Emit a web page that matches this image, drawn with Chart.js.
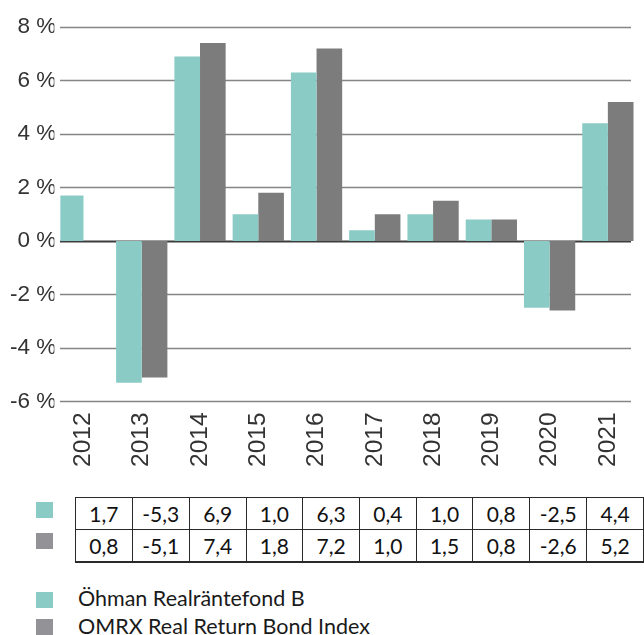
<!DOCTYPE html>
<html>
<head>
<meta charset="utf-8">
<script src="https://cdn.jsdelivr.net/npm/chart.js@4/dist/chart.umd.min.js"></script>
<style>
  html, body { margin: 0; padding: 0; background: #fff; width: 644px; height: 635px; overflow: hidden; position: relative; }
  #wrap { position: absolute; left: 0; top: 0; width: 644px; height: 482px; }
  table.vals { position: absolute; left: 75px; top: 497px; border-collapse: collapse; table-layout: fixed;
    font-family: Lato, "Noto Sans", sans-serif; font-size: 21px; color: #111; }
  table.vals tr { height: 31px; }
  table.vals td { width: 57.3px; height: 31px; padding: 0; text-align: center; border: 1.5px solid #2a2a2a; line-height: 28px; }
  table.vals tr:last-child td { border-bottom: 2px solid #2a2a2a; }
  .sw { position: absolute; width: 17px; height: 16px; }
  .lg { position: absolute; left: 78px; font-family: Lato, "Noto Sans", sans-serif; font-size: 21.5px; color: #1a1a1a; line-height: 24px; white-space: nowrap; }
</style>
</head>
<body>
<div id="wrap"><canvas id="c" width="644" height="482"></canvas></div>
<div id="tbl"></div>
<div id="legend"></div>
<script>
const categories = ['2012','2013','2014','2015','2016','2017','2018','2019','2020','2021'];
const seriesNames = ['Öhman Realräntefond B', 'OMRX Real Return Bond Index'];
// bar heights as drawn in the chart (2012 index bar is not drawn)
const fundBars  = [1.7, -5.3, 6.9, 1.0, 6.3, 0.4, 1.0, 0.8, -2.5, 4.4];
const indexBars = [null, -5.1, 7.4, 1.8, 7.2, 1.0, 1.5, 0.8, -2.6, 5.2];
// values printed in the table
const fundTable  = ['1,7','-5,3','6,9','1,0','6,3','0,4','1,0','0,8','-2,5','4,4'];
const indexTable = ['0,8','-5,1','7,4','1,8','7,2','1,0','1,5','0,8','-2,6','5,2'];
const yTicks = { min: -6, max: 8, step: 2 };
const colors = ['#8acbc6', '#7c7c7c'];
const swatchColors = ['#8acbc6', '#939397'];

const gridPlugin = {
  id: 'grid',
  beforeDatasetsDraw(chart) {
    const ctx = chart.ctx, y = chart.scales.y, a = chart.chartArea;
    const x0 = a.left + 5.7, x1 = a.right - 6;
    ctx.save();
    y.ticks.forEach(t => {
      const py = Math.round(y.getPixelForValue(t.value)) + 0.5;
      ctx.beginPath();
      ctx.strokeStyle = t.value === 0 ? '#3c3c3c' : '#858585';
      ctx.lineWidth = t.value === 0 ? 2 : 1.6;
      ctx.moveTo(x0, py); ctx.lineTo(x1, py); ctx.stroke();
    });
    ctx.restore();
  }
};

new Chart(document.getElementById('c'), {
  type: 'bar',
  data: {
    labels: categories,
    datasets: [
      { label: seriesNames[0], data: fundBars, backgroundColor: colors[0], borderWidth: 0,
        categoryPercentage: 0.88, barPercentage: 1.0, clip: { left: -6, right: 4, top: 4, bottom: 4 } },
      { label: seriesNames[1], data: indexBars, backgroundColor: colors[1], borderWidth: 0,
        categoryPercentage: 0.88, barPercentage: 1.0, clip: { left: -6, right: 4, top: 4, bottom: 4 } }
    ]
  },
  options: {
    responsive: false,
    animation: false,
    layout: { padding: { top: 27, right: 7, bottom: 12, left: 0 } },
    plugins: { legend: { display: false }, tooltip: { enabled: false } },
    scales: {
      x: {
        offset: true,
        grid: { display: false },
        border: { display: false },
        ticks: { minRotation: 90, maxRotation: 90, padding: 3, color: '#333',
          font: { family: 'Liberation Sans, Arial, sans-serif', size: 24.5 } }
      },
      y: {
        min: yTicks.min, max: yTicks.max,
        grid: { display: false },
        border: { display: false },
        afterFit: s => { s.width = 54.35; },
        ticks: { stepSize: yTicks.step, padding: -10, color: '#333',
          font: { family: 'Liberation Sans, Arial, sans-serif', size: 22.5 },
          callback: v => v + ' %' }
      }
    }
  },
  plugins: [gridPlugin]
});

// value table
const tbl = document.createElement('table');
tbl.className = 'vals';
[fundTable, indexTable].forEach(row => {
  const tr = document.createElement('tr');
  row.forEach(v => { const td = document.createElement('td'); td.textContent = v; tr.appendChild(td); });
  tbl.appendChild(tr);
});
document.getElementById('tbl').appendChild(tbl);

const legend = document.getElementById('legend');
function sw(top, color, h) {
  const d = document.createElement('div'); d.className = 'sw';
  d.style.left = '36px'; d.style.top = top + 'px'; d.style.background = color;
  if (h) d.style.height = h + 'px';
  legend.appendChild(d);
}
sw(502, swatchColors[0]); sw(533, swatchColors[1]);
sw(592, swatchColors[0]); sw(619, swatchColors[1]);
[[seriesNames[0], 586], [seriesNames[1], 614]].forEach(([t, top]) => {
  const d = document.createElement('div'); d.className = 'lg'; d.style.top = top + 'px'; d.textContent = t; legend.appendChild(d);
});
</script>
</body>
</html>
